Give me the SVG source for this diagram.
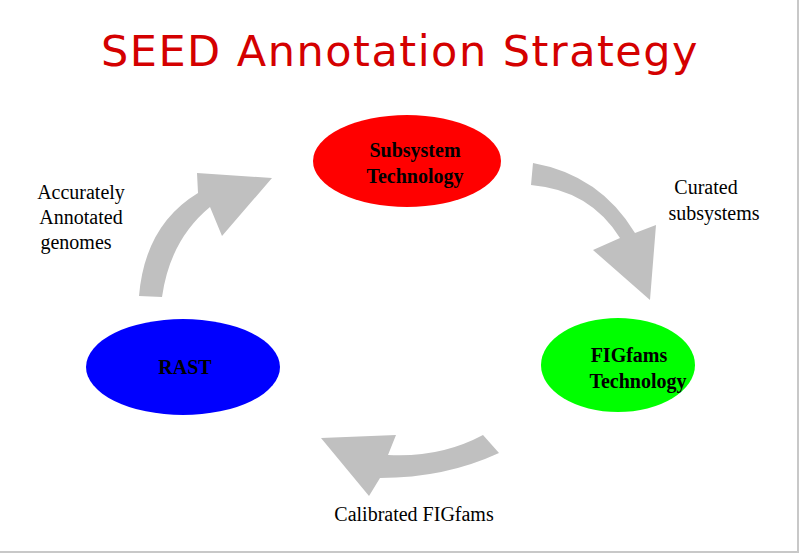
<svg xmlns="http://www.w3.org/2000/svg" width="800" height="554" viewBox="0 0 800 554">
<style>
.lbl{font-family:"Liberation Serif",serif;font-size:20px;fill:#000;text-anchor:middle}
.nl{font-family:"Liberation Serif",serif;font-size:20px;font-weight:bold;fill:#000;text-anchor:middle}
.arr{fill:#c0c0c0}
</style>
<rect width="800" height="554" fill="#fff"/>
<path d="M0 552H798V0" fill="none" stroke="#c8c8c8" stroke-width="2"/>
<text x="400" y="66" font-family="'DejaVu Sans',sans-serif" font-size="43" letter-spacing="1.5" fill="#d40000" text-anchor="middle">SEED Annotation Strategy</text>
<g id="connectors">
<path class="arr" d="M139 296 Q145 225 198 193 L197 173 L272 178 L222 236 L210 207 Q170 240 162 297 Z"/>
<path class="arr" d="M533 163 Q600 175 635 233 L656 225 L650 300 L593 250 L620 238 Q590 190 531 185 Z"/>
<path class="arr" d="M483 435 Q440 458 388 455 L396 435 L321 438 L369 496 L380 478 Q445 478 499 453 Z"/>
</g>
<g id="subsystem"><ellipse cx="407" cy="161" rx="94" ry="46" fill="#ff0000"/><text class="nl" x="415" y="157">Subsystem</text><text class="nl" x="415" y="183">Technology</text></g>
<g id="rast"><ellipse cx="183" cy="367" rx="97" ry="48" fill="#0000ff"/><text class="nl" x="185" y="374">RAST</text></g>
<g id="figfams"><ellipse cx="618" cy="365" rx="77" ry="47" fill="#00ff00"/><text class="nl" x="629" y="362">FIGfams</text><text class="nl" x="638" y="388">Technology</text></g>
<text class="lbl" x="81" y="199">Accurately</text>
<text class="lbl" x="81" y="224">Annotated</text>
<text class="lbl" x="76" y="249">genomes</text>
<text class="lbl" x="706" y="194">Curated</text>
<text class="lbl" x="714" y="220">subsystems</text>
<text class="lbl" x="414" y="521">Calibrated FIGfams</text>
</svg>
